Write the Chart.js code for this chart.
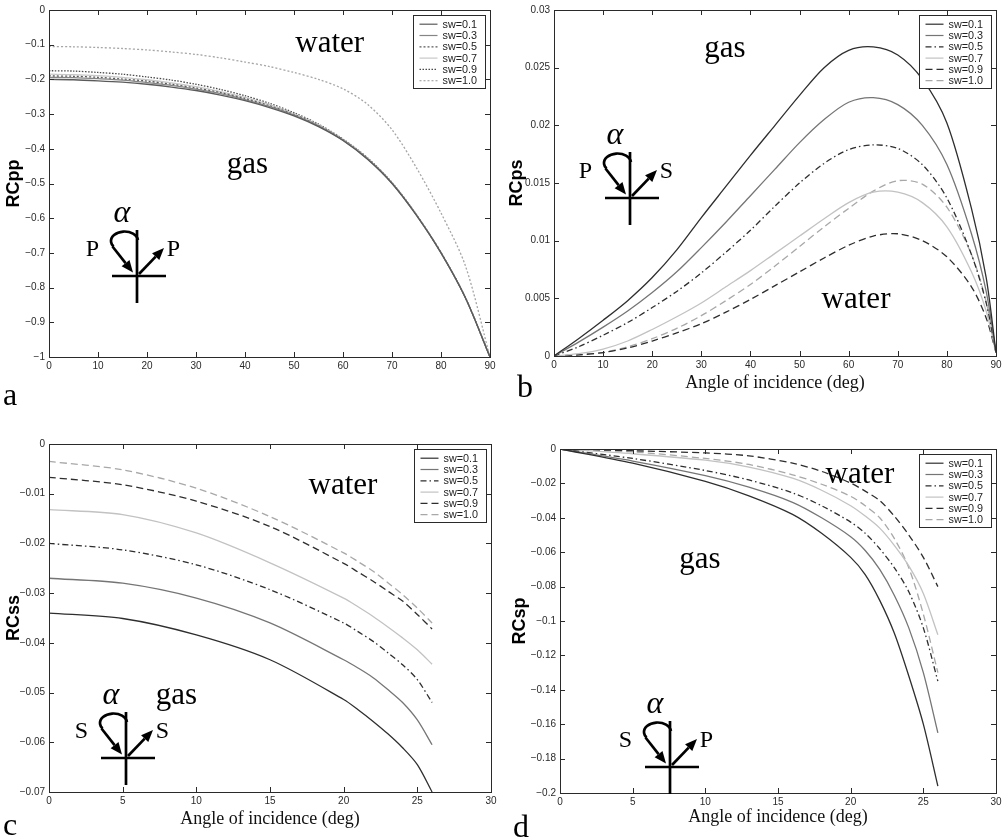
<!DOCTYPE html>
<html>
<head>
<meta charset="utf-8">
<script src="https://cdn.jsdelivr.net/npm/chart.js@4.4.1/dist/chart.umd.min.js"></script>
<style>
  html, body { margin: 0; padding: 0; background: #fff; }
  #wrap { position: relative; width: 1006px; height: 840px; overflow: hidden; background: #fff; }
  #wrap canvas { position: absolute; }
</style>
</head>
<body>
<div id="wrap">
  <canvas id="panelA" width="503" height="420" style="left:0;top:0;width:503px;height:420px"></canvas>
  <canvas id="panelB" width="503" height="420" style="left:503px;top:0;width:503px;height:420px"></canvas>
  <canvas id="panelC" width="503" height="420" style="left:0;top:420px;width:503px;height:420px"></canvas>
  <canvas id="panelD" width="503" height="420" style="left:503px;top:420px;width:503px;height:420px"></canvas>
</div>
<script>
// ---- series labels (water saturation) ----
const swLabels = ['sw=0.1', 'sw=0.3', 'sw=0.5', 'sw=0.7', 'sw=0.9', 'sw=1.0'];

// ---- (a) RCpp vs angle of incidence ----
const anglesPP = [0, 5, 10, 15, 20, 25, 30, 35, 40, 45, 50, 55, 60, 65, 70, 75, 80, 85, 90];
const rcppSw01 = [-0.200, -0.201, -0.204, -0.208, -0.214, -0.222, -0.232, -0.245, -0.261, -0.281, -0.305, -0.336, -0.376, -0.430, -0.500, -0.592, -0.700, -0.830, -1.000];
const rcppSw03 = [-0.194, -0.195, -0.198, -0.202, -0.209, -0.217, -0.228, -0.241, -0.258, -0.278, -0.303, -0.334, -0.375, -0.429, -0.499, -0.591, -0.700, -0.830, -1.000];
const rcppSw05 = [-0.190, -0.191, -0.194, -0.199, -0.205, -0.214, -0.225, -0.238, -0.255, -0.276, -0.301, -0.333, -0.374, -0.428, -0.499, -0.591, -0.699, -0.830, -1.000];
const rcppSw07 = [-0.185, -0.186, -0.189, -0.194, -0.201, -0.210, -0.221, -0.235, -0.252, -0.273, -0.299, -0.331, -0.373, -0.427, -0.498, -0.590, -0.699, -0.829, -1.000];
const rcppSw09 = [-0.175, -0.176, -0.180, -0.185, -0.193, -0.202, -0.214, -0.229, -0.247, -0.269, -0.296, -0.329, -0.372, -0.426, -0.497, -0.590, -0.699, -0.829, -1.000];
const rcppSw10 = [-0.105, -0.106, -0.108, -0.111, -0.115, -0.121, -0.128, -0.138, -0.150, -0.163, -0.180, -0.200, -0.227, -0.272, -0.345, -0.455, -0.585, -0.738, -1.000];

// ---- (b) RCps vs angle of incidence ----
const anglesPS = [0, 5, 10, 15, 20, 25, 30, 35, 40, 45, 50, 55, 60, 65, 70, 75, 80, 85, 88, 90];
const rcpsSw01 = [0, 0.0015, 0.0031, 0.0048, 0.0068, 0.0092, 0.0120, 0.0147, 0.0174, 0.0200, 0.0226, 0.0250, 0.0265, 0.0268, 0.0261, 0.0240, 0.0202, 0.0128, 0.0068, 0.0003];
const rcpsSw03 = [0, 0.0012, 0.0025, 0.0039, 0.0055, 0.0073, 0.0094, 0.0116, 0.0139, 0.0162, 0.0185, 0.0205, 0.0220, 0.0224, 0.0218, 0.0200, 0.0166, 0.0106, 0.0056, 0.0003];
const rcpsSw05 = [0, 0.0008, 0.0018, 0.0029, 0.0042, 0.0056, 0.0072, 0.0090, 0.0109, 0.0130, 0.0150, 0.0167, 0.0179, 0.0183, 0.0180, 0.0166, 0.0137, 0.0088, 0.0046, 0.0003];
const rcpsSw07 = [0, 0.0002, 0.0006, 0.0013, 0.0023, 0.0034, 0.0046, 0.0060, 0.0074, 0.0089, 0.0104, 0.0119, 0.0133, 0.0142, 0.0142, 0.0133, 0.0112, 0.0073, 0.0039, 0.0003];
const rcpsSw09 = [0, 0.0001, 0.0003, 0.0007, 0.0013, 0.0020, 0.0028, 0.0038, 0.0049, 0.0061, 0.0073, 0.0085, 0.0096, 0.0104, 0.0106, 0.0100, 0.0086, 0.0060, 0.0033, 0.0003];
const rcpsSw10 = [0, 0.0001, 0.0003, 0.0008, 0.0015, 0.0024, 0.0035, 0.0048, 0.0062, 0.0078, 0.0095, 0.0112, 0.0128, 0.0143, 0.0152, 0.0149, 0.0129, 0.0088, 0.0047, 0.0003];

// ---- (c) RCss vs angle of incidence ----
const anglesSS = [0, 5, 10, 15, 20, 21, 22, 23, 24, 25, 26];
const rcssSw01 = [-0.0340, -0.0351, -0.0384, -0.0434, -0.0514, -0.0535, -0.0558, -0.0583, -0.0611, -0.0645, -0.0700];
const rcssSw03 = [-0.0270, -0.0280, -0.0310, -0.0360, -0.0434, -0.0451, -0.0470, -0.0494, -0.0520, -0.0555, -0.0605];
const rcssSw05 = [-0.0200, -0.0213, -0.0243, -0.0293, -0.0360, -0.0378, -0.0397, -0.0420, -0.0444, -0.0474, -0.0520];
const rcssSw07 = [-0.0132, -0.0142, -0.0179, -0.0239, -0.0310, -0.0328, -0.0347, -0.0368, -0.0390, -0.0414, -0.0443];
const rcssSw09 = [-0.0067, -0.0082, -0.0115, -0.0166, -0.0240, -0.0258, -0.0276, -0.0296, -0.0316, -0.0343, -0.0372];
const rcssSw10 = [-0.0035, -0.0052, -0.0089, -0.0146, -0.0219, -0.0237, -0.0256, -0.0279, -0.0303, -0.0330, -0.0360];

// ---- (d) RCsp vs angle of incidence ----
const anglesSP = [0, 5, 10, 13, 16, 18, 20, 21, 22, 23, 24, 25, 26];
const rcspSw01 = [0, -0.0082, -0.0188, -0.0272, -0.0380, -0.0490, -0.0630, -0.0730, -0.0880, -0.1070, -0.1320, -0.1600, -0.1960];
const rcspSw03 = [0, -0.0070, -0.0155, -0.0222, -0.0310, -0.0400, -0.0510, -0.0590, -0.0700, -0.0850, -0.1040, -0.1300, -0.1650];
const rcspSw05 = [0, -0.0055, -0.0125, -0.0180, -0.0255, -0.0330, -0.0425, -0.0490, -0.0580, -0.0690, -0.0830, -0.1040, -0.1350];
const rcspSw07 = [0, -0.0028, -0.0065, -0.0105, -0.0170, -0.0240, -0.0330, -0.0390, -0.0460, -0.0560, -0.0680, -0.0840, -0.1080];
const rcspSw09 = [0, -0.0010, -0.0023, -0.0040, -0.0082, -0.0130, -0.0198, -0.0245, -0.0300, -0.0390, -0.0500, -0.0630, -0.0800];
const rcspSw10 = [0, -0.0017, -0.0055, -0.0090, -0.0150, -0.0205, -0.0275, -0.0330, -0.0400, -0.0520, -0.0690, -0.0960, -0.1300];

// ---- line styles ----
const stylesDotted = [
  { color: '#5a5a5a', dash: [] },
  { color: '#858585', dash: [] },
  { color: '#5a5a5a', dash: [2, 2] },
  { color: '#c8c8c8', dash: [] },
  { color: '#4a4a4a', dash: [1.5, 1.5] },
  { color: '#a5a5a5', dash: [2, 2] }
];
const stylesDashed = [
  { color: '#2e2e2e', dash: [] },
  { color: '#757575', dash: [] },
  { color: '#2e2e2e', dash: [6, 3, 1.5, 3] },
  { color: '#c2c2c2', dash: [] },
  { color: '#2e2e2e', dash: [7, 4] },
  { color: '#a8a8a8', dash: [7, 4] }
];

const SERIF = '"Liberation Serif", "Times New Roman", serif';
const SANS = '"Liberation Sans", Arial, Helvetica, sans-serif';

Chart.defaults.font.family = SANS;

function toPoints(xs, ys) {
  return ys.map((y, i) => ({ x: xs[i], y: y }));
}

function fmtTick(v) {
  const s = String(parseFloat(Number(v).toFixed(4)));
  return s.replace('-', '\u2212');
}

function drawArrow(ctx, x0, y0, x1, y1) {
  const ang = Math.atan2(y1 - y0, x1 - x0);
  const L = 12, W = 5;
  const bx = x1 - L * Math.cos(ang), by = y1 - L * Math.sin(ang);
  ctx.beginPath();
  ctx.moveTo(x0, y0);
  ctx.lineTo(bx, by);
  ctx.stroke();
  ctx.beginPath();
  ctx.moveTo(x1, y1);
  ctx.lineTo(bx + W * Math.sin(ang), by - W * Math.cos(ang));
  ctx.lineTo(bx - W * Math.sin(ang), by + W * Math.cos(ang));
  ctx.closePath();
  ctx.fill();
}

// incident / reflected wave sketch centred on the interface point
function drawSketch(ctx, cx, cy, inLetter, outLetter) {
  ctx.save();
  ctx.strokeStyle = '#000';
  ctx.fillStyle = '#000';
  ctx.lineWidth = 2.7;
  ctx.lineCap = 'butt';
  ctx.beginPath(); ctx.moveTo(cx, cy - 46); ctx.lineTo(cx, cy + 27); ctx.stroke();
  ctx.beginPath(); ctx.moveTo(cx - 25, cy); ctx.lineTo(cx + 29, cy); ctx.stroke();
  ctx.beginPath();
  ctx.ellipse(cx - 12.5, cy - 35, 13.5, 9.5, 0, -0.1, -Math.PI - 0.62, true);
  ctx.stroke();
  drawArrow(ctx, cx - 24.5, cy - 29.5, cx - 4, cy - 3.5);
  drawArrow(ctx, cx + 2, cy - 2, cx + 27, cy - 28);
  ctx.textAlign = 'center';
  ctx.textBaseline = 'alphabetic';
  ctx.font = 'italic 32px ' + SERIF;
  ctx.fillText('\u03B1', cx - 15, cy - 54);
  ctx.font = '24px ' + SERIF;
  ctx.fillText(inLetter, cx - 44.5, cy - 20);
  ctx.fillText(outLetter, cx + 36.5, cy - 20);
  ctx.restore();
}

const panelDecor = {
  id: 'panelDecor',
  afterDatasetsDraw(chart, args, opts) {
    const { ctx, chartArea: ca, scales } = chart;
    const xs = scales.x, ys = scales.y;
    ctx.save();
    // axes box
    ctx.strokeStyle = '#2a2a2a';
    ctx.lineWidth = 1;
    ctx.strokeRect(Math.round(ca.left) + 0.5, Math.round(ca.top) + 0.5,
                   Math.round(ca.right - ca.left), Math.round(ca.bottom - ca.top));
    // inward tick marks on all four sides
    const tl = 5;
    ctx.beginPath();
    xs.ticks.forEach(t => {
      const px = Math.round(xs.getPixelForValue(t.value)) + 0.5;
      if (px <= ca.left + 1 || px >= ca.right - 1) return;
      ctx.moveTo(px, ca.bottom); ctx.lineTo(px, ca.bottom - tl);
      ctx.moveTo(px, ca.top); ctx.lineTo(px, ca.top + tl);
    });
    ys.ticks.forEach(t => {
      const py = Math.round(ys.getPixelForValue(t.value)) + 0.5;
      if (py <= ca.top + 1 || py >= ca.bottom - 1) return;
      ctx.moveTo(ca.left, py); ctx.lineTo(ca.left + tl, py);
      ctx.moveTo(ca.right, py); ctx.lineTo(ca.right - tl, py);
    });
    ctx.stroke();

    // legend box in the upper right corner of the axes
    const lw = 72, lh = 73;
    const lx = Math.round(ca.right - 5 - lw) + 0.5, ly = Math.round(ca.top + 5) + 0.5;
    ctx.fillStyle = '#fff';
    ctx.fillRect(lx, ly, lw, lh);
    ctx.strokeStyle = '#2a2a2a';
    ctx.lineWidth = 1;
    ctx.strokeRect(lx, ly, lw, lh);
    ctx.font = '10.8px ' + SANS;
    ctx.textAlign = 'left';
    ctx.textBaseline = 'middle';
    chart.data.datasets.forEach((ds, i) => {
      const ry = ly + 8.7 + i * 11.3;
      ctx.save();
      ctx.strokeStyle = ds.borderColor;
      ctx.lineWidth = 1.2;
      ctx.setLineDash(ds.borderDash || []);
      ctx.beginPath(); ctx.moveTo(lx + 6, ry); ctx.lineTo(lx + 24, ry); ctx.stroke();
      ctx.restore();
      ctx.fillStyle = '#222';
      ctx.fillText(ds.label, lx + 29, ry + 0.5);
    });

    // medium labels
    ctx.fillStyle = '#000';
    ctx.textAlign = 'center';
    ctx.textBaseline = 'alphabetic';
    ctx.font = '31px ' + SERIF;
    (opts.notes || []).forEach(n => {
      ctx.fillText(n.text, xs.getPixelForValue(n.x), ys.getPixelForValue(n.y));
    });

    // wave sketch
    if (opts.sketch) {
      const s = opts.sketch;
      drawSketch(ctx, Math.round(xs.getPixelForValue(s.x)), Math.round(ys.getPixelForValue(s.y)), s.inLetter, s.outLetter);
    }

    // panel letter
    if (opts.letter) {
      ctx.textAlign = 'left';
      ctx.font = '32px ' + SERIF;
      ctx.fillText(opts.letter.text, opts.letter.px, opts.letter.py);
    }
    ctx.restore();
  }
};

function makePanel(canvasId, cfg) {
  const datasets = cfg.series.map((ys, i) => ({
    label: swLabels[i],
    data: toPoints(cfg.xs, ys),
    borderColor: cfg.styles[i].color,
    borderDash: cfg.styles[i].dash,
    borderWidth: 1.3,
    pointRadius: 0,
    fill: false,
    tension: 0.3
  }));
  return new Chart(document.getElementById(canvasId), {
    type: 'line',
    data: { datasets: datasets },
    plugins: [panelDecor],
    options: {
      responsive: false,
      animation: false,
      devicePixelRatio: 1,
      events: [],
      layout: { padding: cfg.pad },
      plugins: {
        legend: { display: false },
        tooltip: { enabled: false },
        panelDecor: cfg.decor
      },
      scales: {
        x: {
          type: 'linear',
          min: cfg.xRange[0], max: cfg.xRange[1],
          grid: { display: false, drawTicks: false },
          border: { display: false },
          ticks: { stepSize: cfg.xStep, color: '#2a2a2a', padding: 3, maxRotation: 0,
                   font: { size: 10, family: SANS }, callback: v => fmtTick(v) },
          title: cfg.xTitle ? { display: true, text: cfg.xTitle, color: '#111',
                   font: { size: 18, family: SERIF }, padding: { top: 0, bottom: 0 } } : { display: false },
          afterFit: s => { s.height = cfg.xHeight; }
        },
        y: {
          type: 'linear',
          min: cfg.yRange[0], max: cfg.yRange[1],
          grid: { display: false, drawTicks: false },
          border: { display: false },
          ticks: { stepSize: cfg.yStep, color: '#2a2a2a', padding: 4,
                   font: { size: 10, family: SANS }, callback: v => fmtTick(v) },
          title: { display: true, text: cfg.yTitle, color: '#000',
                   font: { size: 18, weight: 'bold', family: SANS }, padding: { top: cfg.yTitlePad, bottom: 0 } },
          afterFit: s => { s.width = cfg.yWidth; }
        }
      }
    }
  });
}

makePanel('panelA', {
  xs: anglesPP,
  series: [rcppSw01, rcppSw03, rcppSw05, rcppSw07, rcppSw09, rcppSw10],
  styles: stylesDotted,
  xRange: [0, 90], xStep: 10, yRange: [-1, 0], yStep: 0.1,
  yTitle: 'RCpp', xTitle: null,
  pad: { left: 0, top: 10, right: 13, bottom: 43 }, yWidth: 49, xHeight: 20, yTitlePad: 3,
  decor: {
    notes: [{ text: 'water', x: 57.3, y: -0.121 }, { text: 'gas', x: 40.5, y: -0.470 }],
    sketch: { x: 18.0, y: -0.767, inLetter: 'P', outLetter: 'P' },
    letter: { text: 'a', px: 3, py: 405 }
  }
});

makePanel('panelB', {
  xs: anglesPS,
  series: [rcpsSw01, rcpsSw03, rcpsSw05, rcpsSw07, rcpsSw09, rcpsSw10],
  styles: stylesDashed,
  xRange: [0, 90], xStep: 10, yRange: [0, 0.03], yStep: 0.005,
  yTitle: 'RCps', xTitle: 'Angle of incidence (deg)',
  pad: { left: 0, top: 8, right: 10, bottom: 26 }, yWidth: 51, xHeight: 38, yTitlePad: 3,
  decor: {
    notes: [{ text: 'gas', x: 34.8, y: 0.02595 }, { text: 'water', x: 61.5, y: 0.00414 }],
    sketch: { x: 15.5, y: 0.0137, inLetter: 'P', outLetter: 'S' },
    letter: { text: 'b', px: 14, py: 397 }
  }
});

makePanel('panelC', {
  xs: anglesSS,
  series: [rcssSw01, rcssSw03, rcssSw05, rcssSw07, rcssSw09, rcssSw10],
  styles: stylesDashed,
  xRange: [0, 30], xStep: 5, yRange: [-0.07, 0], yStep: 0.01,
  yTitle: 'RCss', xTitle: 'Angle of incidence (deg)',
  pad: { left: 0, top: 24, right: 12, bottom: 10 }, yWidth: 49, xHeight: 38, yTitlePad: 3,
  decor: {
    notes: [{ text: 'water', x: 19.95, y: -0.01006 }, { text: 'gas', x: 8.65, y: -0.0523 }],
    sketch: { x: 5.23, y: -0.0632, inLetter: 'S', outLetter: 'S' },
    letter: { text: 'c', px: 3, py: 415 }
  }
});

makePanel('panelD', {
  xs: anglesSP,
  series: [rcspSw01, rcspSw03, rcspSw05, rcspSw07, rcspSw09, rcspSw10],
  styles: stylesDashed,
  xRange: [0, 30], xStep: 5, yRange: [-0.2, 0], yStep: 0.02,
  yTitle: 'RCsp', xTitle: 'Angle of incidence (deg)',
  pad: { left: 0, top: 29, right: 10, bottom: 12 }, yWidth: 57, xHeight: 35, yTitlePad: 6,
  decor: {
    notes: [{ text: 'water', x: 20.64, y: -0.0196 }, { text: 'gas', x: 9.63, y: -0.0692 }],
    sketch: { x: 7.57, y: -0.185, inLetter: 'S', outLetter: 'P' },
    letter: { text: 'd', px: 10, py: 417 }
  }
});
</script>
</body>
</html>
